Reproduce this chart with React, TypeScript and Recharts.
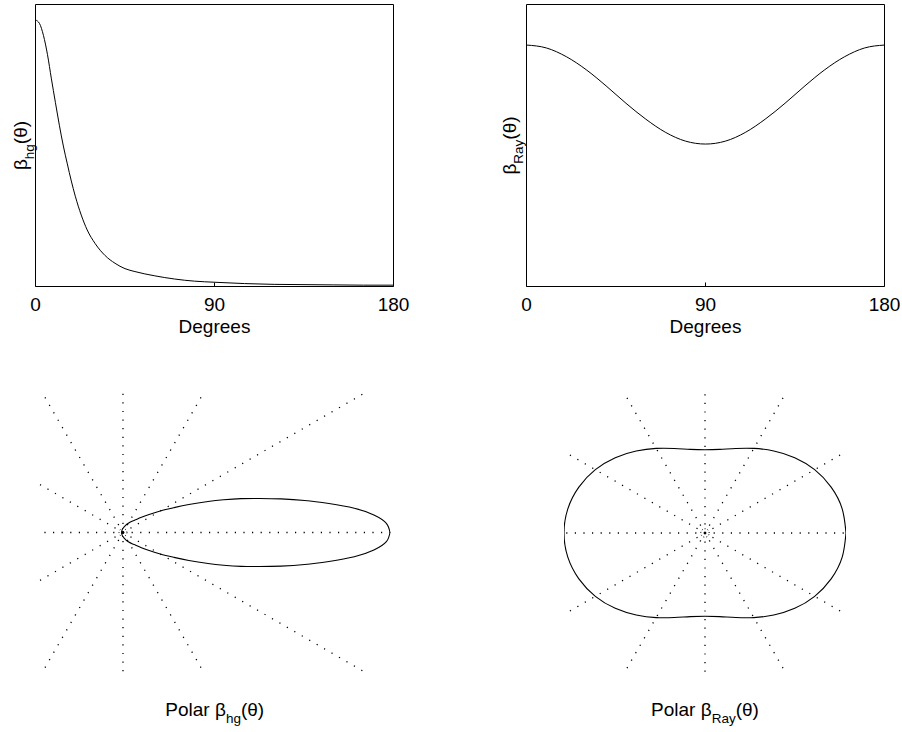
import React from 'react';
import { LineChart, Line, XAxis, YAxis } from 'recharts';

const FONT = '"Liberation Sans", Arial, Helvetica, sans-serif';
const FS = 19;
const SUB_FS = 13.5;

// Henyey–Greenstein phase function, normalised to its forward peak (deg -> value)
const hgAngles = [0, 2, 4, 6, 8, 10, 12, 14, 16, 18, 20, 23, 26, 30, 35, 40, 45, 50, 60, 70, 80, 90, 105, 120, 135, 150, 165, 180];
const hgValues = [1.0, 0.987, 0.942, 0.871, 0.779, 0.691, 0.605, 0.527, 0.46, 0.396, 0.339, 0.268, 0.212, 0.161, 0.116, 0.087, 0.067, 0.056, 0.04, 0.028, 0.02, 0.016, 0.011, 0.008, 0.007, 0.006, 0.005, 0.005];

// Rayleigh phase function, same normalisation
const rayAngles = [0, 10, 20, 30, 40, 50, 60, 70, 80, 90, 100, 110, 120, 130, 140, 150, 160, 170, 180];
const rayValues = [1.0, 0.988, 0.952, 0.898, 0.831, 0.759, 0.693, 0.638, 0.602, 0.59, 0.602, 0.638, 0.693, 0.759, 0.831, 0.898, 0.952, 0.988, 1.0];

const degreeTicks = [0, 90, 180];
const midTicks = [90];
const spokeAngles = [0, 30, 60, 90, 120, 150, 180, 210, 240, 270, 300, 330];

const rad = (d: number) => (d * Math.PI) / 180;

// Closed polar curve: upper half from the table, lower half mirrored
function polarCurve(angles: number[], values: number[]) {
  const upper = angles.map((a, i) => ({ x: values[i] * Math.cos(rad(a)), y: values[i] * Math.sin(rad(a)) }));
  const lower = upper.slice(0, -1).reverse().map((p) => ({ x: p.x, y: -p.y }));
  return [...upper, ...lower];
}

function spokes(length: number) {
  return spokeAngles.map((a) => [
    { x: 0, y: 0 },
    { x: length * Math.cos(rad(a)), y: length * Math.sin(rad(a)) },
  ]);
}

function ring(r: number) {
  const pts = spokeAngles.map((a) => ({ x: r * Math.cos(rad(a)), y: r * Math.sin(rad(a)) }));
  return [...pts, pts[0]];
}

function RotatedBetaLabel(props: any) {
  const { viewBox, sub, gap } = props;
  const bx = viewBox.x + viewBox.width - gap;
  const cy = viewBox.y + viewBox.height / 2;
  return (
    <text
      x={bx}
      y={cy}
      transform={`rotate(-90 ${bx} ${cy})`}
      textAnchor="middle"
      fontFamily={FONT}
      fontSize={FS}
      fill="#000"
    >
      β
      <tspan fontSize={SUB_FS} dy={7}>{sub}</tspan>
      <tspan dy={-7}>(θ)</tspan>
    </text>
  );
}

function TextLabel(props: any) {
  const { viewBox, baseline, children } = props;
  const cx = viewBox.x + viewBox.width / 2;
  return (
    <text x={cx} y={baseline} textAnchor="middle" fontFamily={FONT} fontSize={FS} fill="#000">
      {children}
    </text>
  );
}

function BetaTitle(props: any) {
  const { viewBox, baseline, sub } = props;
  const cx = viewBox.x + viewBox.width / 2;
  return (
    <text x={cx} y={baseline} textAnchor="middle" fontFamily={FONT} fontSize={FS} fill="#000">
      Polar β
      <tspan fontSize={SUB_FS} dy={7}>{sub}</tspan>
      <tspan dy={-7}>(θ)</tspan>
    </text>
  );
}

const PW = 451;
const PH = 345;
const PLOT_W = 358;
const PLOT_H = 282;
const PLOT_TOP = 4.5;
const AX = 1; // thickness reserved by each frame axis

function PhasePanel({ left, plotLeft, angles, values, yMax, sub, gap }: any) {
  const rows = angles.map((deg: number, i: number) => ({ deg, v: values[i] }));
  const axisStroke = { stroke: '#000', strokeWidth: 1 };
  return (
    <div style={{ position: 'absolute', left, top: 0 }}>
      <LineChart
        width={PW}
        height={PH}
        data={rows}
        margin={{
          top: PLOT_TOP - AX,
          left: plotLeft - AX,
          right: PW - plotLeft - PLOT_W - AX,
          bottom: PH - PLOT_TOP - PLOT_H - AX,
        }}
      >
        <XAxis
          xAxisId="b"
          dataKey="deg"
          type="number"
          domain={[0, 180]}
          allowDataOverflow
          ticks={degreeTicks}
          interval={0}
          height={AX}
          tickSize={-4}
          tickMargin={14.7}
          axisLine={axisStroke}
          tickLine={axisStroke}
          tick={{ fill: '#000', fontSize: FS, fontFamily: FONT }}
          label={<TextLabel baseline={332.7}>Degrees</TextLabel>}
        />
        <XAxis
          xAxisId="t"
          orientation="top"
          dataKey="deg"
          type="number"
          domain={[0, 180]}
          allowDataOverflow
          ticks={midTicks}
          interval={0}
          height={AX}
          tickSize={-4}
          axisLine={axisStroke}
          tickLine={axisStroke}
          tick={false}
        />
        <YAxis
          yAxisId="l"
          type="number"
          domain={[0, yMax]}
          allowDataOverflow
          width={AX}
          axisLine={axisStroke}
          tickLine={false}
          tick={false}
          label={<RotatedBetaLabel sub={sub} gap={gap} />}
        />
        <YAxis
          yAxisId="r"
          orientation="right"
          type="number"
          domain={[0, yMax]}
          allowDataOverflow
          width={AX}
          axisLine={axisStroke}
          tickLine={false}
          tick={false}
        />
        <Line
          xAxisId="b"
          yAxisId="l"
          dataKey="v"
          type="monotone"
          stroke="#000"
          strokeWidth={1}
          dot={false}
          activeDot={false}
          isAnimationActive={false}
        />
      </LineChart>
    </div>
  );
}

const QW = 451;
const QH = 362;

function PolarPanel({ left, margin, xDomain, yDomain, angles, values, ringR, sub }: any) {
  const curve = polarCurve(angles, values);
  const rays = spokes(4);
  return (
    <div style={{ position: 'absolute', left, top: 370 }}>
      <LineChart width={QW} height={QH} margin={{ ...margin, bottom: margin.bottom - AX }}>
        <XAxis
          dataKey="x"
          type="number"
          domain={xDomain}
          allowDataOverflow
          height={AX}
          axisLine={false}
          tickLine={false}
          tick={false}
          label={<BetaTitle baseline={346} sub={sub} />}
        />
        <YAxis dataKey="y" type="number" domain={yDomain} allowDataOverflow hide />
        {rays.map((seg, i) => (
          <Line
            key={`spoke-${spokeAngles[i]}`}
            data={seg}
            dataKey="y"
            type="linear"
            stroke="#000"
            strokeWidth={1.3}
            strokeDasharray="1.2 7.4"
            dot={false}
            activeDot={false}
            isAnimationActive={false}
          />
        ))}
        <Line
          data={ring(ringR)}
          dataKey="y"
          type="natural"
          stroke="#000"
          strokeWidth={1}
          strokeDasharray="1 2"
          dot={false}
          activeDot={false}
          isAnimationActive={false}
        />
        <Line
          data={curve}
          dataKey="y"
          type="natural"
          stroke="#000"
          strokeWidth={1.1}
          dot={false}
          activeDot={false}
          isAnimationActive={false}
        />
      </LineChart>
    </div>
  );
}

export default function App() {
  return (
    <div style={{ position: 'absolute', left: 0, top: 0, width: 902, height: 732, background: '#fff', overflow: 'hidden' }}>
      <PhasePanel left={0} plotLeft={35.5} angles={hgAngles} values={hgValues} yMax={1.058} sub="hg" gap={9} />
      <PhasePanel left={451} plotLeft={75.5} angles={rayAngles} values={rayValues} yMax={1.168} sub="Ray" gap={10.5} />
      <PolarPanel
        left={0}
        margin={{ top: 22, left: 39, right: 60.5, bottom: 59 }}
        xDomain={[-0.3146, 1.0019]}
        yDomain={[-0.5262, 0.5262]}
        angles={hgAngles}
        values={hgValues}
        ringR={0.015}
        sub="hg"
      />
      <PolarPanel
        left={451}
        margin={{ top: 22, left: 113, right: 56, bottom: 58 }}
        xDomain={[-1, 1]}
        yDomain={[-1, 1]}
        angles={rayAngles}
        values={rayValues}
        ringR={0.03}
        sub="Ray"
      />
    </div>
  );
}
